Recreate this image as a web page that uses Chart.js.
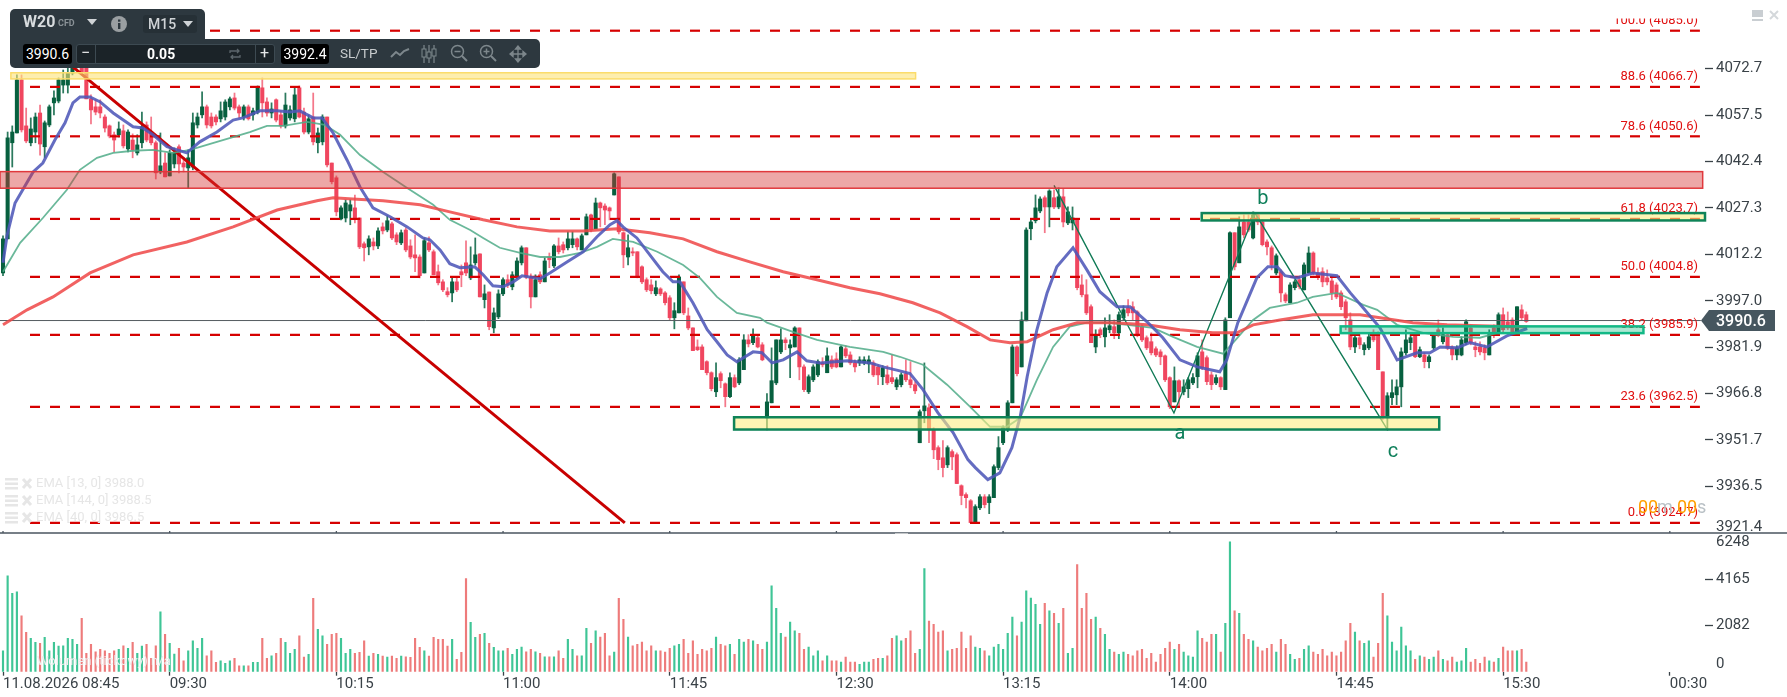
<!DOCTYPE html>
<html>
<head>
<meta charset="utf-8">
<title>W20 M15</title>
<script src="https://cdn.jsdelivr.net/npm/chart.js@4/dist/chart.umd.min.js"></script>
<style>
  html, body { margin: 0; padding: 0; background: #fff; overflow: hidden; font-family: Roboto, sans-serif; }
  #wrap { position: relative; width: 1787px; height: 697px; }
  canvas { position: absolute; left: 0; display: block; }
  #priceChart { top: 0; }
  #volumeChart { top: 533px; }
  .tb { position: absolute; background: #2d383f; }
  .t { position: absolute; white-space: nowrap; line-height: 20px; }
  .box { position: absolute; background: #000; color: #fff; font-size: 14px; text-align: center; line-height: 20px; border-radius: 3px; }
  svg { position: absolute; }
</style>
</head>
<body>
<div id="wrap">
  <canvas id="priceChart" width="1787" height="534"></canvas>
  <canvas id="volumeChart" width="1787" height="164"></canvas>

  <div class="tb" style="left:10px;top:9px;width:195px;height:31px;border-radius:5px 5px 0 0"></div>
  <div class="tb" style="left:10px;top:39px;width:530px;height:29px;border-radius:0 5px 5px 5px"></div>
  <span class="t" style="left:23px;top:12px;font-size:16px;font-weight:700;color:#d8dcde">W20</span>
  <span class="t" style="left:58px;top:13px;font-size:9px;font-weight:700;color:#8a9297">CFD</span>
  <svg style="left:87px;top:19px" width="11" height="6"><path d="M0 0H10L5 6Z" fill="#cfd3d6"/></svg>
  <svg style="left:111px;top:16px" width="16" height="16"><circle cx="8" cy="8" r="8" fill="#9a9fa2"/><rect x="7" y="7" width="2.4" height="6" fill="#2d383f"/><rect x="7" y="3.5" width="2.4" height="2.2" fill="#2d383f"/></svg>
  <div style="position:absolute;left:143px;top:15px;width:54px;height:18px;background:#263036;border-radius:3px"></div>
  <span class="t" style="left:148px;top:14px;font-size:14px;font-weight:500;color:#cfd3d6">M15</span>
  <svg style="left:183px;top:21px" width="11" height="6"><path d="M0 0H10L5 6Z" fill="#cfd3d6"/></svg>

  <div class="box" style="left:23px;top:44px;width:49px;height:20px">3990.6</div>
  <div style="position:absolute;left:76px;top:44px;width:199px;height:20px;background:#1b2328;border:1px solid #3d4a52;box-sizing:border-box;border-radius:3px"></div>
  <div style="position:absolute;left:95px;top:44px;width:1px;height:20px;background:#3d4a52"></div>
  <div style="position:absolute;left:255px;top:44px;width:1px;height:20px;background:#3d4a52"></div>
  <span class="t" style="left:81px;top:43px;font-size:16px;color:#e6e8e9">−</span>
  <span class="t" style="left:147px;top:44px;font-size:14px;font-weight:700;color:#fff">0.05</span>
  <svg style="left:229px;top:48px" width="12" height="12"><path d="M1 5V3H10M8 1L10 3L8 5M11 7V9H2M4 7L2 9L4 11" fill="none" stroke="#5c666c" stroke-width="1.3"/></svg>
  <span class="t" style="left:260px;top:43px;font-size:16px;color:#e6e8e9">+</span>
  <div class="box" style="left:281px;top:44px;width:48px;height:20px">3992.4</div>
  <span class="t" style="left:340px;top:43px;font-size:13.5px;color:#c8ccce">SL/TP</span>
  <svg style="left:390px;top:46px" width="20" height="14"><path d="M1 11L6 6L10 9L14 5L19 3" fill="none" stroke="#7d878c" stroke-width="2"/></svg>
  <svg style="left:420px;top:43px" width="18" height="22"><path d="M4 2V20M9 2V20M14 2V20" stroke="#7d878c" stroke-width="1.2"/><rect x="2" y="6" width="4" height="8" fill="#2d383f" stroke="#7d878c"/><rect x="7" y="9" width="4" height="6" fill="#2d383f" stroke="#7d878c"/><rect x="12" y="6" width="4" height="7" fill="#2d383f" stroke="#7d878c"/></svg>
  <svg style="left:450px;top:44px" width="18" height="20"><circle cx="7.5" cy="7.5" r="6" fill="none" stroke="#7d878c" stroke-width="1.5"/><path d="M12 12L17 17" stroke="#7d878c" stroke-width="2"/><path d="M4.5 7.5H10.5" stroke="#7d878c" stroke-width="1.5"/></svg>
  <svg style="left:479px;top:44px" width="18" height="20"><circle cx="7.5" cy="7.5" r="6" fill="none" stroke="#7d878c" stroke-width="1.5"/><path d="M12 12L17 17" stroke="#7d878c" stroke-width="2"/><path d="M4.5 7.5H10.5M7.5 4.5V10.5" stroke="#7d878c" stroke-width="1.5"/></svg>
  <svg style="left:509px;top:45px" width="18" height="18"><path d="M1 9H17M9 1V17M1 9L4 6.5V11.5ZM17 9L14 6.5V11.5ZM9 1L6.5 4H11.5ZM9 17L6.5 14H11.5Z" fill="#7d878c" stroke="#7d878c" stroke-width="1.3"/></svg>

  <div style="position:absolute;left:1752px;top:10px;width:11px;height:11px;background:#c9ced2"></div>
  <div style="position:absolute;left:1752px;top:17px;width:11px;height:2px;background:#fff"></div>
  <svg style="left:1769px;top:10px" width="10" height="10"><path d="M1 1L9 9M9 1L1 9" stroke="#d4d8db" stroke-width="2"/></svg>
</div>

<script>
/* -------------------------------------------------------------
   MUMLAR (bar 0 = 08:45, 36 bars per axis label)
-------------------------------------------------------------- */
const opens = [
  4006.1,4017.2,4048.5,4051.7,4069.0,4054.0,4048.5,4052.0,4058.2,4047.2,
  4054.3,4061.5,4062.1,4067.3,4067.3,4071.2,4073.5,4073.5,4073.5,4062.8,
  4060.2,4060.2,4056.9,4054.0,4051.1,4051.1,4052.4,4046.5,4049.4,4045.2,
  4048.5,4054.3,4052.0,4048.5,4039.0,4041.9,4037.7,4041.6,4047.2,4041.9,
  4040.3,4040.6,4054.3,4057.6,4060.2,4056.9,4056.9,4056.3,4056.9,4060.2,
  4063.1,4060.2,4056.9,4060.2,4057.6,4058.5,4066.4,4061.8,4058.2,4062.5,
  4057.6,4054.0,4056.6,4056.3,4066.4,4058.5,4052.0,4056.9,4048.5,4048.8,
  4056.9,4041.9,4037.1,4023.7,4024.0,4026.3,4027.3,4024.0,4015.6,4014.6,
  4016.2,4014.9,4021.1,4020.1,4022.1,4018.5,4015.9,4020.1,4014.9,4012.0,
  4011.3,4006.1,4015.9,4013.0,4006.5,4003.2,4000.0,3999.6,4003.2,4006.5,
  4009.4,4004.5,4009.4,4012.3,3997.4,3999.9,3988.2,3991.8,3999.3,4003.9,
  4001.6,4004.8,4009.4,4014.3,4004.8,3998.3,4005.5,4003.2,4011.3,4008.4,
  4014.9,4015.3,4014.3,4015.3,4017.2,4013.6,4018.5,4025.0,4020.5,4028.9,
  4027.9,4027.3,4031.5,4037.4,4019.2,4011.3,4013.0,4013.0,4008.1,4003.9,
  4002.2,3999.3,4000.9,3999.6,3998.0,3991.5,3993.1,4003.2,3992.1,3988.2,
  3982.0,3982.0,3977.2,3973.6,3967.4,3973.3,3970.0,3965.8,3972.0,3970.3,
  3974.6,3984.3,3983.4,3985.0,3982.7,3958.9,3963.8,3970.3,3980.4,3984.3,
  3981.7,3982.0,3988.2,3975.5,3967.4,3971.3,3972.9,3976.8,3973.6,3977.8,
  3978.1,3975.5,3981.4,3979.4,3976.8,3976.8,3976.8,3976.5,3976.8,3975.5,
  3972.3,3972.9,3972.0,3969.0,3969.7,3973.3,3971.3,3969.7,3950.8,3961.2,
  3962.2,3955.0,3949.2,3945.9,3943.6,3947.9,3946.9,3936.8,3933.9,3931.9,
  3924.8,3929.6,3933.2,3931.3,3932.9,3942.7,3950.8,3955.0,3963.8,3982.0,
  3975.5,3990.5,4020.5,4023.1,4026.3,4030.6,4027.6,4030.6,4027.6,4030.9,
  4022.4,4022.4,4023.7,4002.2,3999.0,3995.1,3982.0,3987.6,3985.3,3987.6,
  3988.6,3986.6,3991.5,3994.7,3995.1,3993.4,3988.6,3985.0,3983.7,3981.4,
  3980.4,3979.1,3972.0,3964.1,3971.0,3967.4,3968.4,3970.3,3972.3,3980.4,
  3978.5,3972.9,3970.3,3972.0,3968.1,3991.5,4019.2,4009.4,4022.7,4022.7,
  4017.5,4025.0,4022.7,4016.2,4014.3,4006.1,4006.5,3999.0,3996.4,4001.3,
  4003.9,4000.6,4006.1,4012.6,4006.1,4006.5,4004.5,4003.5,4002.2,3999.6,
  3996.7,3990.8,3982.0,3985.0,3981.1,3981.7,3986.6,3986.6,3973.9,3958.9,
  3965.5,3966.4,3969.0,3980.1,3983.4,3986.0,3978.8,3979.4,3977.2,3981.7,
  3987.6,3983.7,3986.0,3981.7,3979.4,3979.4,3983.4,3988.2,3982.0,3982.0,
  3981.7,3979.4,3988.2,3986.6,3992.5,3990.2,3990.8,3986.9,3994.1,3992.5
];
const closes = [
  4017.2,4050.1,4052.0,4069.0,4052.7,4049.1,4053.0,4056.9,4048.1,4055.0,
  4060.2,4063.1,4069.0,4069.0,4071.2,4074.2,4075.5,4071.6,4062.8,4059.2,
  4058.5,4058.2,4053.3,4050.7,4049.4,4053.0,4047.5,4052.0,4046.2,4047.8,
  4053.7,4049.4,4048.5,4038.7,4041.0,4037.4,4045.2,4045.2,4041.6,4040.6,
  4043.6,4055.0,4056.9,4060.2,4054.3,4054.0,4055.3,4058.9,4061.8,4062.8,
  4059.8,4058.2,4060.2,4056.3,4058.9,4066.4,4061.5,4058.2,4059.5,4055.9,
  4054.0,4060.8,4059.2,4064.1,4056.9,4052.0,4056.3,4048.8,4051.7,4056.9,
  4041.3,4035.8,4026.0,4027.3,4028.9,4028.3,4023.7,4014.6,4014.3,4017.2,
  4014.9,4019.8,4019.8,4023.1,4017.5,4016.2,4019.2,4013.6,4011.3,4011.0,
  4005.2,4016.6,4013.6,4005.5,4002.9,4000.6,3999.0,4003.2,4000.6,4005.5,
  4006.1,4008.7,4012.0,3998.3,3999.3,3988.6,3993.1,3999.3,4003.9,4002.2,
  4005.5,4010.0,4014.3,4004.8,3998.3,4003.9,4003.2,4010.0,4010.4,4014.9,
  4013.0,4013.6,4017.2,4017.2,4014.6,4018.2,4024.4,4020.1,4028.9,4027.3,
  4026.6,4026.3,4038.4,4019.5,4012.0,4014.3,4012.6,4005.2,4003.2,4000.6,
  4000.3,4001.3,3999.3,3996.4,3991.5,3993.8,4004.8,3993.1,3988.2,3980.8,
  3981.1,3974.6,3973.6,3968.4,3972.0,3971.0,3965.8,3972.0,3969.0,3977.8,
  3984.3,3983.0,3986.0,3982.0,3977.8,3964.1,3971.0,3984.3,3984.3,3983.4,
  3982.7,3988.2,3975.5,3968.1,3972.3,3975.5,3977.2,3976.2,3979.1,3975.5,
  3975.5,3982.0,3979.1,3976.8,3975.5,3977.8,3977.8,3977.8,3972.9,3972.9,
  3975.2,3970.3,3970.7,3971.3,3972.9,3971.3,3969.7,3967.7,3960.9,3962.8,
  3955.0,3948.5,3945.3,3942.7,3949.2,3946.2,3937.5,3933.6,3932.9,3924.8,
  3930.0,3933.2,3930.6,3933.2,3943.0,3949.2,3955.7,3963.8,3982.0,3973.3,
  3990.8,4020.1,4022.7,4027.3,4030.2,4027.6,4032.8,4027.6,4030.9,4022.7,
  4026.0,4024.0,4001.3,3999.0,3993.1,3983.4,3986.0,3986.0,3988.2,3988.9,
  3986.6,3992.5,3994.1,3993.1,3993.1,3986.0,3984.3,3981.7,3980.1,3979.4,
  3978.8,3971.3,3962.5,3971.0,3967.4,3969.0,3971.3,3972.0,3979.1,3975.2,
  3970.7,3969.7,3972.0,3969.0,3990.8,4019.2,4008.1,4021.1,4018.5,4020.1,
  4025.0,4022.7,4015.3,4014.6,4008.7,4011.7,3999.6,3997.0,4002.2,4003.2,
  4001.6,4008.7,4012.6,4006.1,4004.8,4003.2,4003.2,3999.6,3998.3,3995.1,
  3991.5,3982.0,3985.0,3982.7,3982.7,3985.3,3984.3,3974.6,3958.9,3966.1,
  3967.1,3969.0,3980.4,3984.3,3985.0,3978.8,3981.1,3977.2,3978.8,3986.0,
  3986.0,3986.0,3981.7,3979.4,3981.7,3984.3,3990.2,3983.4,3981.1,3980.4,
  3980.1,3986.0,3986.0,3992.5,3987.6,3988.2,3986.6,3995.1,3991.5,3990.3
];
const highs = [
  4018.2,4052.0,4054.0,4070.6,4070.6,4059.8,4056.6,4058.2,4060.8,4055.6,
  4060.8,4065.4,4069.6,4072.2,4073.5,4075.5,4078.1,4076.1,4074.8,4064.1,
  4062.5,4062.5,4057.6,4054.3,4052.0,4055.3,4054.3,4052.7,4051.4,4051.1,
  4058.5,4055.3,4056.9,4049.1,4051.7,4045.2,4046.2,4046.8,4047.8,4043.6,
  4046.2,4058.2,4058.2,4065.1,4060.8,4058.2,4057.6,4061.8,4062.5,4063.4,
  4064.7,4060.8,4060.8,4060.8,4059.8,4067.0,4069.6,4063.1,4061.5,4062.8,
  4058.9,4064.7,4060.5,4066.7,4067.0,4059.8,4057.6,4064.7,4053.3,4057.6,
  4056.9,4041.9,4037.7,4028.0,4029.9,4029.9,4031.5,4024.0,4016.2,4018.2,
  4017.5,4020.8,4022.4,4024.7,4022.7,4019.2,4020.1,4020.8,4016.9,4018.5,
  4012.0,4017.5,4017.9,4013.6,4008.7,4003.9,4001.3,4004.5,4004.5,4008.7,
  4016.6,4014.6,4017.5,4012.3,4002.2,3999.9,3994.7,4000.6,4004.5,4005.5,
  4006.5,4011.0,4014.9,4014.3,4005.8,4005.5,4006.5,4011.0,4012.6,4015.3,
  4017.5,4016.2,4019.5,4019.5,4017.5,4018.8,4025.3,4025.3,4030.5,4029.2,
  4028.6,4027.6,4038.7,4037.4,4019.5,4018.5,4014.3,4013.0,4008.4,4004.5,
  4003.9,4003.5,4001.3,4000.0,3998.7,3996.4,4005.5,4003.2,3994.7,3988.2,
  3984.3,3982.7,3977.5,3973.9,3976.8,3973.9,3970.3,3973.6,3972.9,3978.5,
  3986.0,3986.0,3987.9,3985.6,3983.4,3966.8,3981.7,3984.3,3987.9,3985.0,
  3984.3,3988.6,3988.2,3976.2,3972.9,3976.2,3977.8,3978.5,3981.7,3979.1,
  3980.1,3982.4,3982.4,3980.4,3977.8,3978.8,3978.8,3979.1,3977.5,3976.2,
  3975.9,3975.9,3979.4,3972.0,3973.6,3977.8,3977.2,3970.7,3961.5,3976.8,
  3963.5,3955.7,3949.8,3951.5,3949.8,3948.5,3947.5,3937.1,3934.5,3932.3,
  3930.6,3933.9,3933.9,3933.9,3943.6,3952.8,3956.3,3964.5,3982.7,3982.4,
  3993.4,4020.8,4023.4,4031.5,4030.9,4031.2,4033.2,4033.2,4033.8,4033.5,
  4027.6,4027.6,4023.7,4005.5,4003.9,3995.7,3987.6,3988.2,3991.5,3992.5,
  3990.8,3993.4,3995.4,3997.4,3996.7,3993.8,3989.2,3985.6,3986.6,3982.0,
  3981.1,3979.4,3972.3,3975.5,3971.3,3971.3,3972.0,3973.3,3980.1,3984.3,
  3979.1,3973.9,3972.9,3972.3,3991.5,4019.5,4019.2,4024.4,4025.0,4025.0,
  4026.0,4025.7,4023.4,4016.9,4014.9,4012.3,4007.1,3999.6,4002.9,4003.9,
  4004.5,4009.4,4014.6,4013.0,4007.8,4007.8,4007.1,4004.5,4002.9,4000.3,
  3997.4,3993.1,3986.0,3986.0,3983.4,3986.6,3987.6,3986.9,3973.9,3967.1,
  3971.3,3971.3,3981.7,3987.6,3986.0,3986.6,3982.0,3980.1,3979.4,3986.6,
  3990.8,3988.2,3986.6,3982.4,3982.4,3985.3,3990.8,3989.2,3983.7,3983.7,
  3982.7,3987.6,3989.2,3993.1,3994.7,3993.4,3991.5,3995.1,3995.7,3993.4
];
const lows = [
  4005.2,4017.2,4040.6,4051.7,4052.0,4048.5,4047.5,4048.5,4044.5,4043.6,
  4053.7,4057.6,4061.5,4064.7,4064.7,4070.6,4072.9,4070.9,4062.8,4054.6,
  4057.6,4056.6,4052.0,4050.1,4045.5,4050.4,4046.8,4045.5,4043.6,4044.5,
  4046.8,4048.8,4047.8,4036.7,4038.4,4037.4,4037.7,4040.3,4038.7,4039.0,
  4033.8,4039.7,4053.3,4056.6,4053.3,4053.3,4054.3,4055.3,4055.9,4059.2,
  4059.2,4056.6,4055.9,4055.9,4055.9,4057.9,4056.9,4057.2,4056.6,4055.3,
  4053.3,4053.3,4055.9,4055.3,4056.6,4051.4,4051.4,4047.8,4045.2,4047.8,
  4040.6,4035.1,4024.7,4023.4,4022.7,4021.8,4022.4,4014.0,4010.0,4012.0,
  4013.6,4014.0,4018.8,4019.5,4016.9,4015.3,4015.3,4013.0,4010.7,4006.5,
  4004.5,4006.1,4013.0,4005.5,4002.2,4000.0,3998.3,3996.7,4000.0,4001.6,
  4005.2,4003.9,4008.7,3998.3,3994.7,3987.6,3986.6,3991.2,3998.7,4001.3,
  4000.6,4004.2,4008.7,4004.2,3994.7,3998.3,4002.6,4003.2,4007.8,4007.8,
  4012.3,4012.6,4013.6,4014.3,4013.6,4013.6,4018.5,4019.5,4020.5,4021.1,
  4021.8,4023.4,4031.5,4018.8,4007.8,4008.7,4011.7,4004.5,4002.6,4000.0,
  3999.3,3998.7,3998.7,3995.7,3990.8,3987.9,3993.1,3992.5,3987.6,3980.8,
  3980.8,3974.6,3972.9,3967.7,3965.8,3968.7,3962.5,3965.5,3968.7,3969.7,
  3974.6,3982.0,3982.7,3981.7,3977.5,3955.0,3963.8,3969.7,3979.8,3981.1,
  3972.0,3982.0,3971.3,3967.4,3966.8,3970.7,3972.3,3975.5,3973.6,3974.9,
  3975.2,3975.5,3978.5,3976.2,3973.9,3975.9,3976.2,3973.6,3972.3,3969.7,
  3969.7,3969.7,3970.0,3968.1,3969.0,3970.7,3968.7,3966.8,3950.8,3957.3,
  3950.8,3945.6,3942.0,3939.7,3942.7,3942.0,3937.5,3930.6,3929.6,3924.8,
  3924.8,3929.0,3929.6,3927.7,3932.9,3942.0,3950.2,3954.4,3963.8,3972.6,
  3975.5,3990.5,4016.9,4022.4,4025.7,4019.2,4021.1,4027.0,4027.0,4021.1,
  4021.8,4020.1,4000.6,3998.3,3992.5,3983.4,3980.1,3985.0,3982.0,3986.6,
  3984.7,3984.7,3990.8,3992.1,3990.8,3985.3,3983.7,3981.1,3979.4,3978.8,
  3976.2,3970.7,3961.9,3964.1,3962.2,3966.4,3965.5,3969.7,3968.7,3974.6,
  3969.7,3968.1,3969.7,3968.1,3968.1,3991.5,4007.1,4009.4,4017.5,4019.5,
  4017.2,4021.8,4014.9,4012.0,4007.1,4005.5,3996.7,3996.4,3996.4,4000.6,
  4000.9,4000.6,4006.1,4005.5,4003.9,4001.6,4002.2,3997.4,3997.7,3994.1,
  3987.6,3981.1,3980.1,3981.4,3979.4,3981.1,3983.7,3974.6,3958.3,3955.0,
  3963.2,3963.2,3962.5,3979.4,3981.1,3978.5,3978.5,3975.2,3975.2,3981.1,
  3985.3,3983.0,3981.1,3977.8,3977.8,3979.1,3982.7,3982.7,3978.8,3979.4,
  3977.8,3979.4,3985.0,3986.6,3986.9,3987.6,3986.3,3986.9,3990.8,3990.0
];
const volumes = [
  945,4320,3525,3600,2520,1770,1500,1320,1275,1545,
  945,1320,1155,1170,1500,1455,1230,2400,825,1230,
  900,1005,945,825,945,1005,1170,1050,1320,825,
  1155,1230,600,1170,2700,1680,1275,795,1050,495,
  945,1395,1050,1500,720,945,420,495,375,495,
  600,270,270,270,420,420,1500,600,720,825,
  1500,1320,825,1005,1620,660,780,3300,1905,1620,
  1230,1680,1725,1500,825,1005,825,870,1395,705,
  825,780,705,660,705,600,705,675,645,1500,
  1095,945,705,1545,1455,1455,1155,1455,555,870,
  4200,2220,1545,1680,1725,1275,1095,945,
  945,1050,780,1005,1110,900,1005,900,825,675,
  675,675,945,600,1455,1005,720,720,1950,1275,
  1845,1560,1725,720,885,3300,2355,1560,1170,1230,
  1335,945,1170,945,945,885,1050,1170,1230,1455,
  825,1395,780,1005,945,1050,1560,1230,1170,1230,
  780,1455,1335,1455,1395,1230,1005,1335,3870,2850,
  1725,1560,2235,1845,1725,1005,1110,720,945,495,
  720,495,495,435,660,435,435,330,435,435,
  555,600,600,720,1500,1620,1395,1500,1845,825,
  1005,4650,2280,2130,1785,1845,945,1005,1050,1785,
  1050,1620,1110,1050,945,720,1110,1230,
  1005,1725,2460,1620,2235,3645,3315,3030,2130,3075,
  2745,2625,2175,2850,825,1050,4830,2850,3525,2355,
  2460,1950,1680,1005,885,780,885,780,720,945,
  1005,600,825,435,780,1050,1335,1005,1230,885,
  720,660,1845,1500,1335,1680,1680,885,2175,5850,
  2745,2625,1680,1455,1395,1110,945,1050,1230,885,
  1455,1230,780,555,600,1005,1170,885,780,1005,
  720,885,720,885,1395,2175,1785,1395,1275,1395,
  660,1275,3525,2520,1335,945,2010,1170,945,555,
  720,660,555,660,945,555,495,660,435,495,
  1050,435,555,375,660,495,435,600,1110,945,
  945,945,1005,435
];

/* -------------------------------------------------------------
   EMA ÇİZGİLERİ (values read at these bars)
-------------------------------------------------------------- */
const ema13Bars = [0,0.9,2.6,6.5,8.6,11.2,13.4,15.1,16.6,18.8,21,23.8,28.1,30.2,32.4,35.4,39.7,42.5,46.2,49.7,51.8,55.5,59.2,62,64.1,67,68.9,71.3,74.3,77.1,79.9,83.6,87.3,90.7,92.2,94.4,96.5,98.7,101.9,103.7,105.8,108,110.2,112.1,116,118.1,121.8,125.3,128.3,131.1,132.6,133.9,136.9,139.7,142.5,144.7,146.2,149,152.1,154.2,156.4,158.5,162,163.9,166.1,168.5,171.5,173.6,176.5,182.3,187.3,190.1,193.7,195.9,198.7,201.9,205.2,208.4,210,212.7,215.3,217.9,219.7,221.2,223.3,225.5,227.6,231.1,234.1,236.9,240.6,243.4,247.1,250.5,254.2,257.9,262.8,264.3,266.7,270.8,273.2,275.2,276.9,279.5,282.9,288.1,291,293.8,297.4,301.1,305.4,308.2,310.4,314,316.8,320.5,324.8,329.2];
const ema13 = [4009.4,4018.5,4028.9,4039.0,4041.9,4049.4,4055.0,4061.5,4063.4,4063.4,4061.8,4058.2,4053.7,4053.3,4051.1,4047.2,4045.2,4048.8,4052.0,4055.9,4056.6,4058.9,4058.9,4058.5,4058.9,4056.6,4056.6,4051.7,4042.9,4034.1,4027.3,4024.4,4021.1,4017.5,4016.9,4013.6,4009.1,4007.8,4008.1,4005.5,4001.9,4001.6,4003.2,4005.2,4004.2,4006.1,4009.7,4013.0,4017.9,4021.8,4023.1,4021.1,4017.5,4012.0,4006.5,4003.2,4003.2,3996.4,3987.6,3983.7,3979.4,3977.2,3980.4,3980.1,3976.8,3977.8,3980.4,3977.5,3976.8,3977.5,3976.8,3975.5,3974.2,3973.3,3968.1,3960.6,3954.1,3945.3,3942.7,3938.8,3941.0,3949.2,3959.3,3972.3,3987.6,3999.6,4008.1,4014.3,4007.1,4000.0,3995.1,3995.1,3990.2,3985.0,3977.8,3975.5,3973.9,3977.8,3989.9,4004.5,4008.1,4008.1,4005.2,4004.5,4006.1,4005.2,3999.6,3994.7,3988.2,3977.8,3980.1,3980.1,3982.0,3981.7,3983.4,3982.0,3985.6,3988.0];

const ema40Bars = [0,3.7,8.6,13.8,16.6,20.3,23.8,28.1,32.4,36.7,40.4,46.2,53.3,57,60.5,65.7,69.5,72.8,77.1,82.1,87.3,92.9,96.5,100.9,103.7,107.3,111.7,116,120.3,124.6,128.3,131.7,136.1,141.3,146.9,150.5,154.2,158.5,163.5,165,170.6,175.8,182.9,190.1,193.7,198.7,203.9,208.9,213.2,216.8,219.7,223.3,226.8,230.4,234.1,238.4,242.8,248.4,252.7,257.9,263.5,265.7,270,273.6,279.5,282.9,288.1,293.8,296.8,301.1,306.7,313.2,319,322.7,329.2];
const ema40 = [4006.5,4015.9,4024.0,4033.2,4039.7,4043.6,4045.2,4045.9,4046.2,4045.2,4046.2,4048.8,4052.0,4054.0,4054.0,4055.3,4054.3,4051.1,4044.5,4039.0,4033.8,4028.3,4023.4,4020.1,4017.5,4014.3,4012.6,4011.3,4011.3,4012.6,4014.6,4017.2,4016.2,4013.0,4008.7,4004.5,3998.3,3993.1,3991.5,3989.9,3986.9,3984.3,3982.0,3980.4,3978.8,3976.2,3969.7,3962.5,3956.0,3956.0,3958.9,3971.3,3982.0,3988.6,3989.9,3989.9,3989.2,3988.2,3985.3,3982.0,3979.8,3983.4,3990.8,3994.7,3996.4,3998.3,3999.6,3995.7,3994.1,3989.2,3986.6,3985.3,3985.0,3986.6,3986.5];

const ema144Bars = [0,5.2,10.8,18.8,28.1,39.7,49.7,59.2,67.8,71.3,75.6,82.1,90.1,96.5,103.7,111,118.1,125.3,132.6,139.7,146.9,154.2,161.3,168.5,175.8,182.9,189.4,196.5,202.4,208.2,213.2,217.5,221.2,226.8,232,239.8,247.1,254.2,261.3,266.5,270,275.8,282.9,293.1,297.4,304.5,311.9,319,329.2];
const ema144 = [3989.2,3994.1,3998.3,4006.1,4012.0,4016.2,4021.1,4026.6,4029.6,4030.6,4030.2,4029.6,4028.3,4026.0,4023.4,4021.1,4019.8,4019.8,4020.5,4019.2,4017.2,4013.0,4009.7,4006.5,4003.9,4001.3,3999.3,3996.4,3993.1,3988.6,3984.3,3983.4,3983.7,3987.6,3989.9,3989.9,3989.2,3987.6,3986.6,3986.6,3989.2,3990.8,3992.5,3992.5,3991.5,3989.9,3989.2,3988.9,3988.5];

/* -------------------------------------------------------------
   EKSENLER VE ÇİZİMLER
-------------------------------------------------------------- */
const xTickBars = [0,36,72,108,144,180,216,252,288,324,360];
const xTickLabels = ["11.08.2026 08:45","09:30","10:15","11:00","11:45","12:30","13:15","14:00","14:45","15:30","00:30"];
const priceTicks = [4072.7,4057.5,4042.4,4027.3,4012.2,3997.0,3981.9,3966.8,3951.7,3936.5];
const volumeTicks = [4165,2082];

const lastPrice = 3990.6;

const fibLevels = [100.0,88.6,78.6,61.8,50.0,38.2,23.6,0.0];
const fibPrices = [4085.0,4066.7,4050.6,4023.7,4004.8,3985.9,3962.5,3924.7];

const trendBars = [5.6,134.3];
const trendPrices = [4085.0,3924.7];

const waveBars = [227,252.9,270.4,299.1];
const wavePrices = [4034.6,3960.5,4025.6,3954.8];
const waveNames = ["a","b","c"];
const waveNameBars = [254.2,272.1,300.2];
const waveNamePrices = [3953.7,4030.2,3947.9];

const zoneFromBar = [1.7,-0.65,258.9,157.9,288.9];
const zoneToBar = [197.1,367.1,367.6,310.2,354.3];
const zoneHigh = [4071.3,4039.1,4025.6,3959.1,3988.7];
const zoneLow = [4069.3,4033.7,4023.2,3955.1,3986.5];

const legendTexts = ["EMA [13, 0] 3988.0","EMA [144, 0] 3988.5","EMA [40, 0] 3986.5"];

/* -------------------------------------------------------------
   STİLLER
-------------------------------------------------------------- */
const FONT = "Roboto, sans-serif";
const TEXT_COLOR = "#3a4248";
const AXIS_COLOR = "#4b5660";
const X_MIN = -0.65, X_MAX = 367.6;
const AXIS_W = 82;

const zoneFill = ["rgba(252,226,120,.6)","rgba(214,50,50,.43)","rgba(252,238,130,.6)","rgba(252,238,130,.6)","rgba(16,185,129,.35)"];
const zoneStroke = ["#fbdc6a","#e0383c","#0f8458","#0f8458","#12b886"];
const zoneWidth = [1.5,1.5,2.5,2.5,2.5];

const isUp = i => closes[i] >= opens[i];
const bars = opens.map((_, i) => i);

function fixAxisWidth(scale) {
  scale.width = AXIS_W;
  scale.paddingTop = scale.paddingBottom = scale.paddingLeft = scale.paddingRight = 0;
}

function yAxisOptions(min, max, tickValues, decimals) {
  return {
    position: "right",
    min: min,
    max: max,
    afterBuildTicks: axis => { axis.ticks = tickValues.map(v => ({ value: v })); },
    afterFit: fixAxisWidth,
    border: { display: false },
    grid: { drawOnChartArea: false, drawTicks: true, tickLength: 8, tickColor: TEXT_COLOR, tickWidth: 1.3 },
    ticks: {
      autoSkip: false,
      padding: 3,
      color: TEXT_COLOR,
      font: { family: FONT, size: 15 },
      callback: v => v.toFixed(decimals)
    }
  };
}

/* -------------------------------------------------------------
   FİYAT GRAFİĞİ ÜST ÇİZİMLERİ
-------------------------------------------------------------- */
const priceOverlay = {
  id: "priceOverlay",
  afterDatasetsDraw(chart) {
    const { ctx, scales: { x, y } } = chart;
    ctx.save();

    // fib etiketleri
    ctx.font = "13px " + FONT;
    ctx.fillStyle = "#e01010";
    ctx.textAlign = "right";
    ctx.textBaseline = "middle";
    const labelX = x.getPixelForValue(366.1);
    fibLevels.forEach((lvl, i) => {
      const py = y.getPixelForValue(fibPrices[i]);
      const text = lvl.toFixed(1) + " (" + fibPrices[i].toFixed(1) + ")";
      if (i === 0) {
        ctx.save();
        ctx.beginPath();
        ctx.rect(1500, 18.5, 210, 30);
        ctx.clip();
        ctx.fillText(text, labelX, py - 10);
        ctx.restore();
      } else {
        ctx.fillText(text, labelX, py - 10);
      }
    });

    // bölgeler
    zoneFromBar.forEach((from, i) => {
      const x0 = x.getPixelForValue(from), x1 = x.getPixelForValue(zoneToBar[i]);
      const y0 = y.getPixelForValue(zoneHigh[i]), y1 = y.getPixelForValue(zoneLow[i]);
      ctx.fillStyle = zoneFill[i];
      ctx.fillRect(x0, y0, x1 - x0, y1 - y0);
      ctx.strokeStyle = zoneStroke[i];
      ctx.lineWidth = zoneWidth[i];
      ctx.strokeRect(x0, y0, x1 - x0, y1 - y0);
    });

    // a b c
    ctx.font = "20px " + FONT;
    ctx.fillStyle = "#0e7f5a";
    ctx.textAlign = "center";
    waveNames.forEach((name, i) => {
      ctx.fillText(name, x.getPixelForValue(waveNameBars[i]), y.getPixelForValue(waveNamePrices[i]));
    });

    // geri sayım
    ctx.font = "18px " + FONT;
    ctx.textAlign = "left";
    ctx.textBaseline = "alphabetic";
    [["00", 1638, "#ffa000"], ["m", 1657, "#b9c0c5"], ["00", 1677, "#ffa000"], ["s", 1697, "#b9c0c5"]].forEach(p => {
      ctx.fillStyle = p[2];
      ctx.fillText(p[0], p[1], 513);
    });

    // son fiyat etiketi
    const tagY = y.getPixelForValue(lastPrice);
    ctx.fillStyle = "#46565f";
    ctx.beginPath();
    ctx.moveTo(1701, tagY);
    ctx.lineTo(1709, tagY - 10.5);
    ctx.lineTo(1775, tagY - 10.5);
    ctx.lineTo(1775, tagY + 10.5);
    ctx.lineTo(1709, tagY + 10.5);
    ctx.closePath();
    ctx.fill();
    ctx.font = "500 16px " + FONT;
    ctx.fillStyle = "#fff";
    ctx.textBaseline = "middle";
    ctx.fillText(lastPrice.toFixed(1), 1716, tagY + 1);

    // EMA göstergesi
    ctx.font = "13px " + FONT;
    legendTexts.forEach((t, i) => {
      const ly = 484 + i * 17;
      ctx.fillStyle = "#e6e6e6";
      ctx.fillText(t, 36, ly);
      for (let k = 0; k < 3; k++) ctx.fillRect(5, ly - 6 + k * 4.5, 13, 2.5);
      ctx.strokeStyle = "#e6e6e6";
      ctx.lineWidth = 3;
      ctx.beginPath();
      ctx.moveTo(23, ly - 5); ctx.lineTo(31, ly + 4);
      ctx.moveTo(31, ly - 5); ctx.lineTo(23, ly + 4);
      ctx.stroke();
    });

    // alt eksen ve sabit etiket
    const base = chart.chartArea.bottom;
    ctx.strokeStyle = AXIS_COLOR;
    ctx.lineWidth = 1.3;
    ctx.beginPath();
    ctx.moveTo(0, base);
    ctx.lineTo(1787, base);
    xTickBars.forEach(b => {
      ctx.moveTo(x.getPixelForValue(b), base);
      ctx.lineTo(x.getPixelForValue(b), base - 2);
    });
    ctx.stroke();
    ctx.fillStyle = "#c4c7c9";
    ctx.fillRect(895, base, 13, 1);
    ctx.font = "15px " + FONT;
    ctx.fillStyle = TEXT_COLOR;
    ctx.fillText("3921.4", 1716, base - 6);

    ctx.restore();
  }
};

const lineDs = (xs, ys, color, width, extra) => Object.assign({
  type: "line",
  data: xs.map((v, i) => ({ x: v, y: ys[i] })),
  borderColor: color,
  borderWidth: width,
  pointRadius: 0,
  tension: 0,
  fill: false
}, extra || {});

const fibDatasets = fibPrices.map(p => lineDs([5.83, 366.5], [p, p], "#d60000", 2.2, { borderDash: [10, 10], order: 4 }));

new Chart(document.getElementById("priceChart"), {
  type: "bar",
  data: {
    datasets: [
      lineDs(ema13Bars, ema13, "rgba(78,88,184,.88)", 3, { order: 1 }),
      lineDs(ema144Bars, ema144, "rgba(238,70,70,.85)", 3, { order: 2 }),
      lineDs(ema40Bars, ema40, "rgba(80,172,136,.85)", 1.8, { order: 3 }),
      lineDs(trendBars, trendPrices, "#c80000", 3, { order: 3 }),
      lineDs(waveBars, wavePrices, "#0f7a55", 1.4, { order: 3 }),
      lineDs([X_MIN, 366.7], [lastPrice, lastPrice], "#555b60", 1, { order: 3 }),
      ...fibDatasets,
      {
        data: bars.map(i => ({ x: i, y: [Math.min(opens[i], closes[i]), Math.max(opens[i], closes[i])] })),
        backgroundColor: bars.map(i => isUp(i) ? "#07603f" : "#f0465f"),
        barThickness: 3.4,
        grouped: false,
        order: 5
      },
      {
        data: bars.map(i => ({ x: i, y: [lows[i], highs[i]] })),
        backgroundColor: bars.map(i => isUp(i) ? "#2c7a5e" : "#f4788a"),
        barThickness: 1.1,
        grouped: false,
        order: 6
      }
    ]
  },
  options: {
    responsive: false,
    animation: false,
    devicePixelRatio: 1,
    layout: { padding: { top: 0, left: 0, right: 0, bottom: 1 } },
    plugins: { legend: { display: false }, tooltip: { enabled: false } },
    scales: {
      x: { type: "linear", offset: false, min: X_MIN, max: X_MAX, display: false },
      y: yAxisOptions(3921.4, 4095, priceTicks, 1)
    }
  },
  plugins: [priceOverlay]
});

/* -------------------------------------------------------------
   HACİM GRAFİĞİ
-------------------------------------------------------------- */
const volumeOverlay = {
  id: "volumeOverlay",
  afterDatasetsDraw(chart) {
    const { ctx, chartArea } = chart;
    ctx.save();
    ctx.font = "15px " + FONT;
    ctx.fillStyle = TEXT_COLOR;
    ctx.textBaseline = "middle";
    ctx.fillText("6248", 1716, chartArea.top + 9);
    ctx.fillText("0", 1716, chartArea.bottom - 7);
    ctx.fillStyle = "#eeeeee";
    ctx.font = "13px " + FONT;
    ctx.fillText("Wolumen (tickowy) n/a", 37, chartArea.bottom - 10);
    ctx.restore();
  }
};

new Chart(document.getElementById("volumeChart"), {
  type: "bar",
  data: {
    datasets: [{
      data: bars.map(i => ({ x: i, y: volumes[i] })),
      backgroundColor: bars.map(i => isUp(i) ? "#3fc596" : "#ee7b7b"),
      barThickness: 1.5,
      grouped: false
    }]
  },
  options: {
    responsive: false,
    animation: false,
    devicePixelRatio: 1,
    layout: { padding: 0 },
    plugins: { legend: { display: false }, tooltip: { enabled: false } },
    scales: {
      x: {
        type: "linear",
        offset: false,
        min: X_MIN,
        max: X_MAX,
        afterBuildTicks: axis => { axis.ticks = xTickBars.map(v => ({ value: v })); },
        afterFit: scale => {
          scale.height = 25.3;
          scale.paddingLeft = scale.paddingRight = 0;
        },
        border: { display: false },
        grid: { offset: false, drawOnChartArea: false, drawTicks: true, tickLength: 4, tickColor: TEXT_COLOR, tickWidth: 1.3 },
        ticks: {
          autoSkip: false,
          maxRotation: 0,
          align: "start",
          padding: 0,
          color: TEXT_COLOR,
          font: { family: FONT, size: 15 },
          callback: v => xTickLabels[xTickBars.indexOf(v)]
        }
      },
      y: yAxisOptions(0, 6248, volumeTicks, 0)
    }
  },
  plugins: [volumeOverlay]
});
</script>
</body>
</html>
